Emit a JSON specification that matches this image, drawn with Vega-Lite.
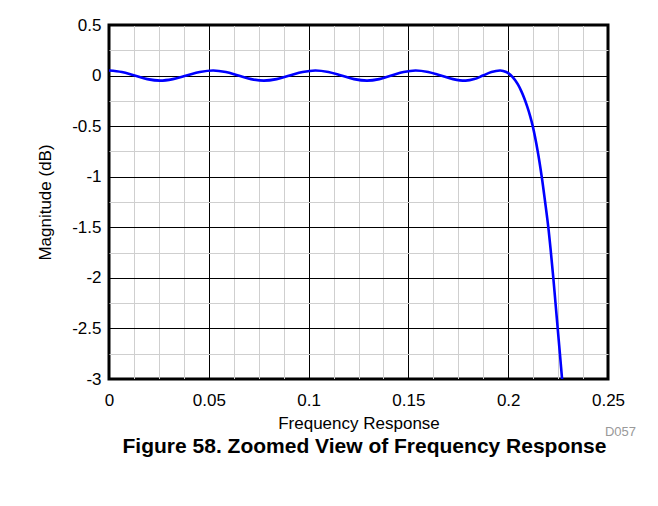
{
  "$schema": "https://vega.github.io/schema/vega-lite/v6.json",
  "autosize": {"type": "none"},
  "width": 499,
  "height": 354,
  "padding": {"left": 109, "top": 25, "right": 50, "bottom": 127},
  "background": "white",
  "config": {
    "font": "Liberation Sans",
    "view": {"stroke": "black", "strokeWidth": 3},
    "axis": {"domain": false, "ticks": false, "labelFont": "Liberation Sans", "titleFont": "Liberation Sans", "labelColor": "black", "titleColor": "black", "titleFontWeight": "normal"}
  },
  "title": {
    "text": "Figure 58. Zoomed View of Frequency Response",
    "orient": "bottom",
    "anchor": "middle",
    "font": "Liberation Sans",
    "fontSize": 21,
    "fontWeight": "bold",
    "color": "black",
    "offset": -3,
    "dx": 6
  },
  "datasets": {
    "resp": [
      {"f": 0.0, "db": 0.05},
      {"f": 0.0064, "db": 0.035},
      {"f": 0.0128, "db": 0.0},
      {"f": 0.0192, "db": -0.035},
      {"f": 0.0256, "db": -0.05},
      {"f": 0.032, "db": -0.035},
      {"f": 0.0388, "db": 0.0},
      {"f": 0.0455, "db": 0.035},
      {"f": 0.0522, "db": 0.05},
      {"f": 0.0585, "db": 0.035},
      {"f": 0.0648, "db": 0.0},
      {"f": 0.0712, "db": -0.035},
      {"f": 0.0776, "db": -0.05},
      {"f": 0.084, "db": -0.035},
      {"f": 0.0905, "db": 0.0},
      {"f": 0.097, "db": 0.035},
      {"f": 0.1034, "db": 0.05},
      {"f": 0.1099, "db": 0.035},
      {"f": 0.1164, "db": 0.0},
      {"f": 0.1228, "db": -0.035},
      {"f": 0.1293, "db": -0.05},
      {"f": 0.1354, "db": -0.035},
      {"f": 0.1415, "db": 0.0},
      {"f": 0.1476, "db": 0.035},
      {"f": 0.1536, "db": 0.05},
      {"f": 0.1599, "db": 0.035},
      {"f": 0.1662, "db": 0.0},
      {"f": 0.1724, "db": -0.035},
      {"f": 0.1787, "db": -0.05},
      {"f": 0.183, "db": -0.035},
      {"f": 0.1873, "db": 0.0},
      {"f": 0.1916, "db": 0.035},
      {"f": 0.1959, "db": 0.05},
      {"f": 0.1975, "db": 0.046},
      {"f": 0.199, "db": 0.035},
      {"f": 0.2005, "db": 0.017},
      {"f": 0.202, "db": -0.01},
      {"f": 0.2035, "db": -0.046},
      {"f": 0.205, "db": -0.093},
      {"f": 0.2065, "db": -0.151},
      {"f": 0.208, "db": -0.221},
      {"f": 0.2095, "db": -0.304},
      {"f": 0.211, "db": -0.4},
      {"f": 0.2123, "db": -0.5},
      {"f": 0.2148, "db": -0.75},
      {"f": 0.2168, "db": -1.0},
      {"f": 0.2185, "db": -1.25},
      {"f": 0.2201, "db": -1.5},
      {"f": 0.2214, "db": -1.75},
      {"f": 0.2226, "db": -2.0},
      {"f": 0.2237, "db": -2.25},
      {"f": 0.2248, "db": -2.5},
      {"f": 0.2259, "db": -2.75},
      {"f": 0.227, "db": -3.0},
      {"f": 0.2281, "db": -3.25}
    ],
    "note": [{"label": "D057", "f": 0.25, "db": -3}]
  },
  "resolve": {"axis": {"x": "independent", "y": "independent"}},
  "layer": [
    {
      "data": {"name": "resp"},
      "mark": {"type": "line", "opacity": 0, "clip": true},
      "encoding": {
        "x": {
          "field": "f", "type": "quantitative",
          "scale": {"domain": [0, 0.25], "nice": false, "zero": false},
          "axis": {
            "orient": "bottom",
            "title": null,
            "labels": false,
            "values": [0.0125, 0.025, 0.0375, 0.0625, 0.075, 0.0875, 0.1125, 0.125, 0.1375, 0.1625, 0.175, 0.1875, 0.2125, 0.225, 0.2375],
            "grid": true,
            "gridWidth": 1,
            "gridColor": "#cfcfcf"
          }
        },
        "y": {
          "field": "db", "type": "quantitative",
          "scale": {"domain": [-3, 0.5], "nice": false, "zero": false},
          "axis": {
            "orient": "left",
            "title": null,
            "labels": false,
            "values": [-2.75, -2.25, -1.75, -1.25, -0.75, -0.25, 0.25],
            "grid": true,
            "gridWidth": 1,
            "gridColor": "#cfcfcf"
          }
        }
      }
    },
    {
      "data": {"name": "resp"},
      "mark": {"type": "line", "opacity": 0, "clip": true},
      "encoding": {
        "x": {
          "field": "f", "type": "quantitative",
          "axis": {
            "orient": "bottom",
            "title": "Frequency Response",
            "titleFontSize": 17,
            "titlePadding": 7,
            "labelFontSize": 17,
            "labelPadding": 13,
            "values": [0, 0.05, 0.1, 0.15, 0.2, 0.25],
            "labelExpr": "'' + datum.value",
            "labelOverlap": false,
            "labelFlush": false,
            "grid": true,
            "gridWidth": 1,
            "gridColor": "black"
          }
        },
        "y": {
          "field": "db", "type": "quantitative",
          "axis": {
            "orient": "left",
            "title": "Magnitude (dB)",
            "titleFontSize": 17,
            "titlePadding": 17,
            "labelFontSize": 17,
            "labelPadding": 8,
            "values": [-3, -2.5, -2, -1.5, -1, -0.5, 0, 0.5],
            "labelExpr": "'' + datum.value",
            "labelOverlap": false,
            "labelFlush": false,
            "grid": true,
            "gridWidth": 1,
            "gridColor": "black"
          }
        }
      }
    },
    {
      "mark": {"type": "rule", "color": "#666666", "strokeWidth": 1.6},
      "encoding": {
        "y": {"datum": 0, "type": "quantitative", "axis": null}
      }
    },
    {
      "data": {"name": "resp"},
      "mark": {"type": "line", "color": "#0000ff", "strokeWidth": 2.6, "interpolate": "catmull-rom", "clip": true},
      "encoding": {
        "x": {"field": "f", "type": "quantitative", "axis": null},
        "y": {"field": "db", "type": "quantitative", "axis": null}
      }
    },
    {
      "data": {"name": "note"},
      "mark": {"type": "text", "align": "right", "baseline": "middle", "fontSize": 13, "color": "#999999", "dx": 28, "dy": 53, "font": "Liberation Sans"},
      "encoding": {
        "x": {"field": "f", "type": "quantitative", "axis": null},
        "y": {"field": "db", "type": "quantitative", "axis": null},
        "text": {"field": "label"}
      }
    }
  ]
}
